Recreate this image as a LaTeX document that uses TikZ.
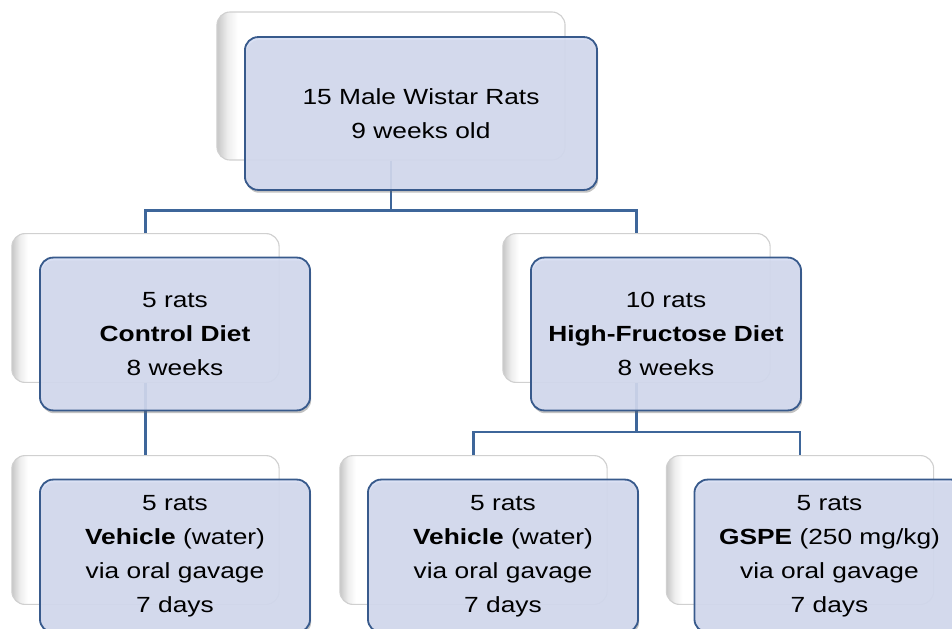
\documentclass[tikz,border=0pt]{standalone}
\usepackage{fontspec}
\setmainfont{Liberation Sans}[FakeStretch=1.2]
\usetikzlibrary{positioning}
\usetikzlibrary{calc}
\usetikzlibrary{shadows}
\pgfdeclarelayer{background}
\pgfdeclarelayer{foreground}
\pgfsetlayers{background,main,foreground}
\definecolor{boxfill}{RGB}{214,221,243}
\definecolor{boxline}{RGB}{56,90,140}
\definecolor{linkline}{RGB}{62,102,154}
\definecolor{cardline}{RGB}{208,208,208}
\pgfdeclarehorizontalshading{cardshade}{100bp}{color(0bp)=(black!22); color(25bp)=(black!22); color(26.5bp)=(black!7); color(28bp)=(white); color(100bp)=(white)}

\begin{document}
\begin{tikzpicture}[x=0.025cm,y=-0.025cm,
  card/.style={draw=cardline, line width=0.8pt, rounded corners=0.33cm, shade, shading=cardshade,
    minimum width=6.68cm, minimum height=3.72cm, inner sep=0pt},
  topcardbox/.style={card, minimum width=8.7cm, minimum height=3.7cm},
  group/.style={draw=boxline, line width=1.3pt, fill=boxfill, fill opacity=0.88, text opacity=1,
    rounded corners=0.33cm, minimum width=6.75cm, minimum height=3.82cm, inner sep=0pt,
    align=center, font=\fontsize{15.6}{24.2}\selectfont,
    drop shadow={shadow xshift=0.8pt, shadow yshift=-2pt, opacity=0.4, fill=black!60}},
  topgroup/.style={group, minimum width=8.8cm},
  link/.style={draw=linkline, line width=2.1pt}]
\useasboundingbox (0,0) rectangle (952,629);
\clip (0,0) rectangle (952,629);
% back cards
\node[topcardbox] (topcard) at (391,86) {};
\node[card] (ctrlcard) at (145.5,308) {};
\node[card] (hfdcard) at (636.5,308) {};
\node[card] (ctrlvehcard) at (145.5,530) {};
\node[card] (hfdvehcard) at (473.5,530) {};
\node[card] (gspecard) at (800,530) {};
% connectors
\coordinate (fork1) at ($(topcard.south)+(0,50)$);
\coordinate (fork2) at ($(hfdcard.south)+(0,49)$);
\draw[link] (topcard.south) -- (fork1);
\draw[link] (ctrlcard.north) |- (fork1) -| (hfdcard.north);
\draw[link] (ctrlcard.south) -- (ctrlvehcard.north);
\draw[link] (hfdcard.south) -- (fork2);
\draw[link] (hfdvehcard.north) |- (fork2) -| (gspecard.north);
% front boxes
\node[topgroup] (top) at ($(topcard)+(30,27.5)$) {15 Male Wistar Rats\\9 weeks old};
\node[group] (ctrl) at ($(ctrlcard)+(29.5,26)$) {5 rats\\\textbf{Control Diet}\\8 weeks};
\node[group] (hfd) at ($(hfdcard)+(29.5,26)$) {10 rats\\\textbf{High-Fructose Diet}\\8 weeks};
\node[group] (ctrlveh) at ($(ctrlvehcard)+(29.5,26)$) {5 rats\\\textbf{Vehicle} (water)\\via oral gavage\\7 days};
\node[group] (hfdveh) at ($(hfdvehcard)+(29.5,26)$) {5 rats\\\textbf{Vehicle} (water)\\via oral gavage\\7 days};
\node[group] (gspe) at ($(gspecard)+(29.5,26)$) {5 rats\\\textbf{GSPE} (250 mg/kg)\\via oral gavage\\7 days};
\end{tikzpicture}
\end{document}
